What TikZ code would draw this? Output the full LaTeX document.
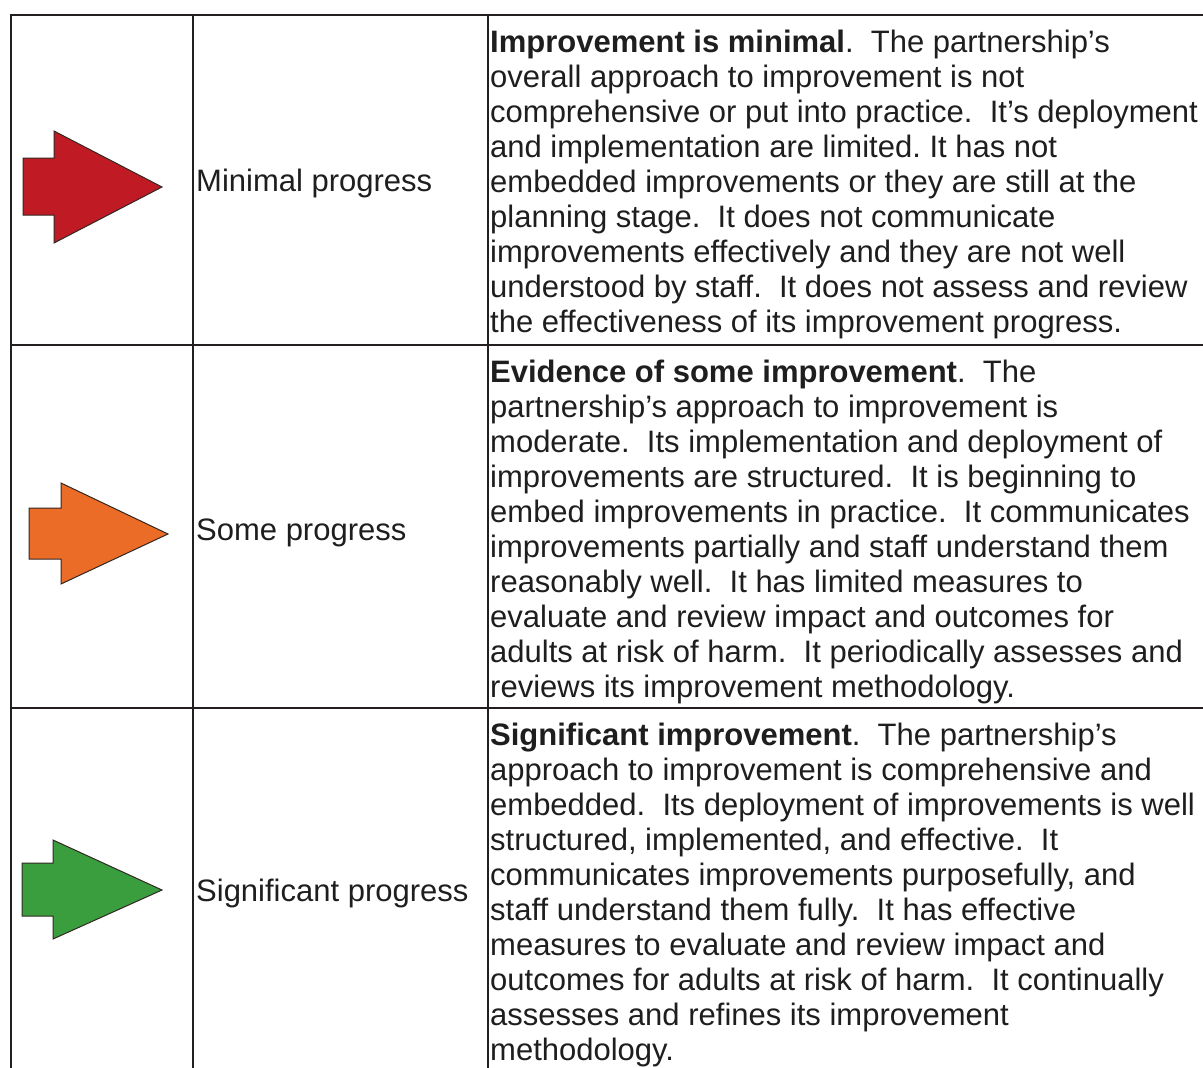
\documentclass[tikz,border=0pt]{standalone}
\usepackage{fontspec}
\setmainfont{Liberation Sans}
\frenchspacing
\definecolor{rule}{RGB}{35,31,32}
\definecolor{txt}{RGB}{30,30,30}
\definecolor{redA}{RGB}{192,26,36}
\definecolor{orangeA}{RGB}{234,108,38}
\definecolor{greenA}{RGB}{58,157,62}
\definecolor{edgeA}{RGB}{50,40,35}
\tikzset{
  gridline/.style={draw=rule, line width=2.3pt},
  body/.style={anchor=north west, inner sep=0pt, align=left, text=txt,
    font=\fontsize{31}{35}\selectfont},
  label/.style={anchor=base west, inner sep=0pt, text=txt,
    font=\fontsize{31}{35}\selectfont},
  arrowshape/.style={draw=edgeA, line width=1pt, line join=miter}
}
\newcommand{\fl}{\rule{0pt}{25pt}}
\begin{document}
\begin{tikzpicture}[x=1pt,y=-1pt]
\useasboundingbox (0,0) rectangle (1203,1068);
% grid
\coordinate (tl) at (11,15);
\coordinate (tr) at (1215,15);
\draw[gridline] (tl) -- (tr);
\draw[gridline] (11,345) -- (1215,345);
\draw[gridline] (11,708) -- (1215,708);
\draw[gridline] (11,14) -- (11,1080);
\draw[gridline] (193,14) -- (193,1080);
\draw[gridline] (488,14) -- (488,1080);
% arrows
\filldraw[arrowshape, fill=redA] (23,158) -- (54,158) -- (54,131) -- (162,187) -- (54,243) -- (54,215) -- (23,215) -- cycle;
\filldraw[arrowshape, fill=orangeA] (29,508) -- (61,508) -- (61,483) -- (168,534) -- (61,584) -- (61,559) -- (29,559) -- cycle;
\filldraw[arrowshape, fill=greenA] (22,863) -- (53,863) -- (53,840) -- (162,890) -- (53,939) -- (53,916) -- (22,916) -- cycle;
% labels
\node[label] (l1) at (196,191) {Minimal progress};
\node[label] (l2) at (196,540) {Some progress};
\node[label] (l3) at (196,901) {Significant progress};
% body texts
\node[body] (t1) at (490,27) {\fl{\bfseries Improvement is minimal}.\ \ The partnership’s\\
overall approach to improvement is not\\
comprehensive or put into practice.\ \ It’s deployment\\
and implementation are limited. It has not\\
embedded improvements or they are still at the\\
planning stage.\ \ It does not communicate\\
improvements effectively and they are not well\\
understood by staff.\ \ It does not assess and review\\
the effectiveness of its improvement progress.};
\node[body] (t2) at (490,357) {\fl{\bfseries Evidence of some improvement}.\ \ The\\
partnership’s approach to improvement is\\
moderate.\ \ Its implementation and deployment of\\
improvements are structured.\ \ It is beginning to\\
embed improvements in practice.\ \ It communicates\\
improvements partially and staff understand them\\
reasonably well.\ \ It has limited measures to\\
evaluate and review impact and outcomes for\\
adults at risk of harm.\ \ It periodically assesses and\\
reviews its improvement methodology.};
\node[body] (t3) at (490,720) {\fl{\bfseries Significant improvement}.\ \ The partnership’s\\
approach to improvement is comprehensive and\\
embedded.\ \ Its deployment of improvements is well\\
structured, implemented, and effective.\ \ It\\
communicates improvements purposefully, and\\
staff understand them fully.\ \ It has effective\\
measures to evaluate and review impact and\\
outcomes for adults at risk of harm.\ \ It continually\\
assesses and refines its improvement\\
methodology.};
\end{tikzpicture}
\end{document}
